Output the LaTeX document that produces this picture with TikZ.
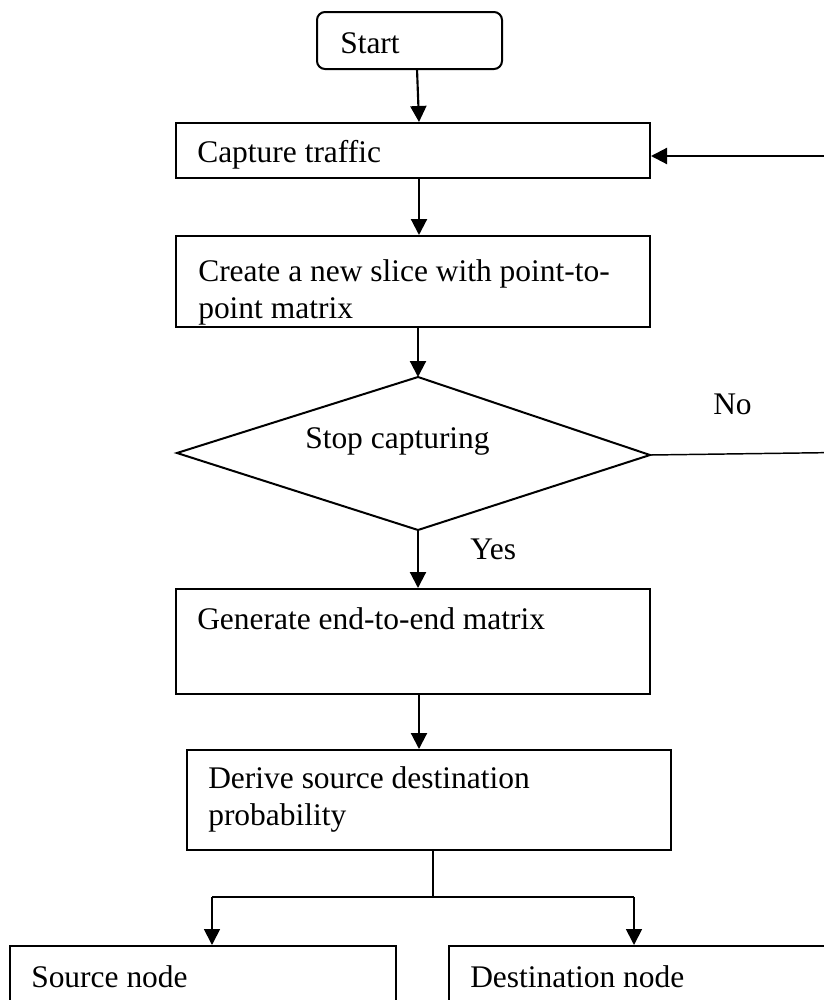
\documentclass[tikz,border=0pt]{standalone}
\usepackage{fontspec}
\setmainfont{Liberation Serif}
\usetikzlibrary{arrows.meta,fit}
\begin{document}
\begin{tikzpicture}[x=0.75pt,y=-0.75pt,
  box/.style={draw,line width=1.5pt,inner sep=0pt},
  rbox/.style={box,rounded corners=6pt},
  txt/.style={anchor=base west,inner sep=0pt,font=\fontsize{23.6}{27.75}\selectfont},
  arr/.style={line width=1.6pt,-{Triangle[length=12pt,width=12pt]}},
  thinln/.style={line width=1.1pt},
  thinarr/.style={line width=1.3pt,-{Triangle[length=12pt,width=12pt]}}]
\useasboundingbox (0,0) rectangle (824,1000);
% boxes
\node[rbox,fit={(317,12) (502,69)}] (start) {};
\node[box,fit={(176,123) (650,178)}] (cap) {};
\node[box,fit={(176,236) (650,327)}] (create) {};
\node[box,fit={(176,589) (650,694)}] (gen) {};
\node[box,fit={(187,750) (671,850)}] (der) {};
\node[box,fit={(10,946) (396,1010)}] (src) {};
\node[box,fit={(449,946) (830,1010)}] (dst) {};
% diamond
\coordinate (dtop) at (418,377);
\coordinate (dleft) at (177,453);
\coordinate (dright) at (650,455);
\coordinate (dbot) at (418,530);
\draw[line width=1.5pt,line join=miter] (dtop) -- (dright) -- (dbot) -- (dleft) -- cycle;
% texts
\node[txt] (tstart) at (340,53) {Start};
\node[txt] (tcap) at (197,162) {Capture traffic};
\node[txt] (tcr1) at (198,281) {Create a new slice with point-to-};
\node[txt] (tcr2) at (198,318) {point matrix};
\node[txt] (tstop) at (305,448) {Stop capturing};
\node[txt] (tgen) at (197,629) {Generate end-to-end matrix};
\node[txt] (tder1) at (208,788) {Derive source destination};
\node[txt] (tder2) at (208,825) {probability};
\node[txt] (tsrc) at (31,987) {Source node};
\node[txt] (tdst) at (470,987) {Destination node};
\node[txt] (tyes) at (470,559) {Yes};
\node[txt] (tno) at (713,414) {No};
% connectors
\coordinate (a1) at (417,69);
\coordinate (ax) at (419,0);
\draw[arr] (a1) -- (cap.north -| ax);
\draw[arr] (cap.south -| ax) -- (create.north -| ax);
\draw[arr] (create.south -| dtop) -- (dtop);
\draw[arr] (dbot) -- (gen.north -| dbot);
\draw[arr] (gen.south -| ax) -- (der.north -| ax);
% feedback loop
\coordinate (fbr) at (830,452.6);
\coordinate (fbt) at (830,156);
\draw[thinln] (dright) -- (fbr) -- (fbt);
\draw[arr] (fbt) -- (cap.east |- fbt);
% split
\coordinate (sp) at (433,897);
\coordinate (la) at (212,897);
\coordinate (ra) at (634,897);
\draw[thinln] (der.south -| sp) -- (sp);
\draw[thinln] (la) -- (ra);
\draw[thinarr] (la) -- (la |- src.north);
\draw[thinarr] (ra) -- (ra |- dst.north);
\end{tikzpicture}
\end{document}
